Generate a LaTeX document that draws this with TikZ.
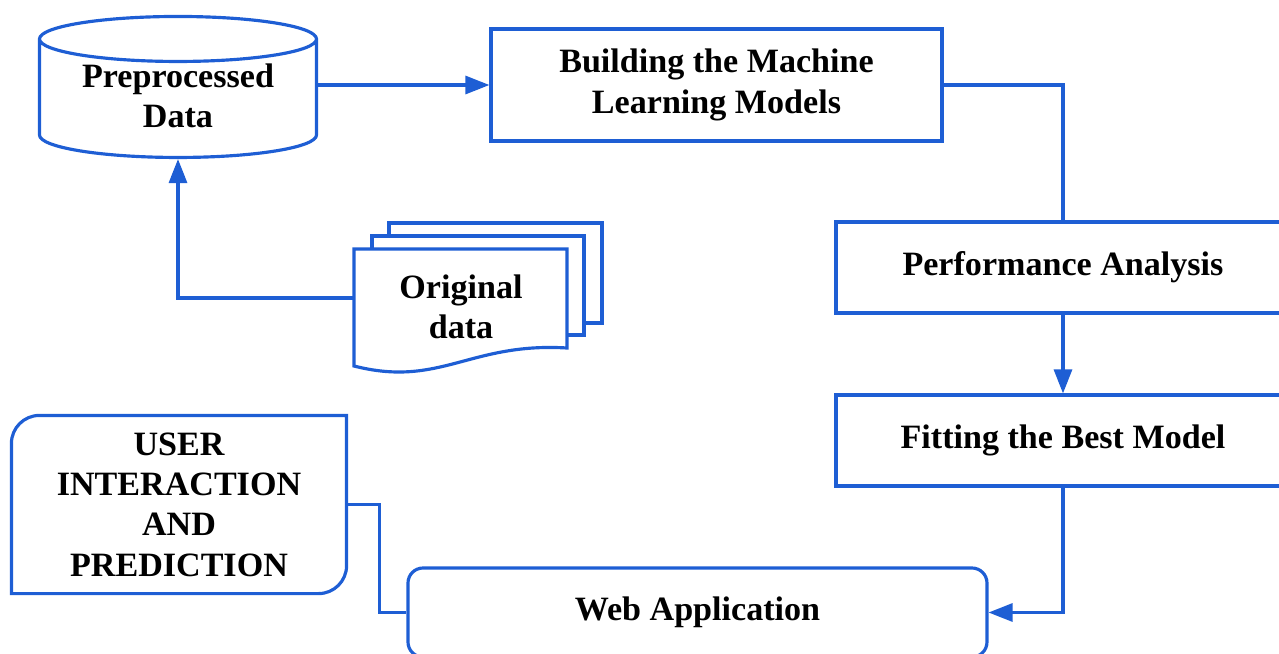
\documentclass[tikz,border=0pt]{standalone}
\usepackage{fontspec}
\setmainfont{Liberation Serif}
\usepackage{tikz}
\usetikzlibrary{shapes.geometric,arrows.meta,positioning}

\definecolor{flowblue}{RGB}{30,94,212}

\begin{document}
\begin{tikzpicture}[x=0.1mm, y=-0.1mm, line width=0.9pt,
    lbl/.style={align=center, font=\bfseries\fontsize{9.7}{11.5}\selectfont},
    box/.style={lbl, draw=flowblue, rectangle, inner sep=0pt},
    flow/.style={draw=flowblue},
    arr/.style={flow, -{Triangle[length=2.4mm,width=1.8mm]}}]
    \useasboundingbox (0,0) rectangle (1279,654);

    % Data store and model building
    \node[draw=flowblue, cylinder, shape border rotate=90, aspect=0.225, inner sep=0pt,
          text width=20mm, minimum width=27.7mm, minimum height=14.1mm] (prep) at (178,99) {};
    \node[lbl] (prepText) at (178,96) {Preprocessed\\Data};
    \node[box, minimum width=45.1mm, minimum height=11.2mm] (build) at (716.5,85) {Building the Machine\\Learning Models};

    % Right column
    \node[box, minimum width=45.4mm, minimum height=9.1mm] (perf) at (1063,267.5) {Performance Analysis};
    \node[box, minimum width=45.4mm, minimum height=9.1mm] (fit) at (1063,440.5) {Fitting the Best Model};

    % Bottom row
    \node[box, rounded corners=1.5mm, minimum width=57.9mm, minimum height=8.9mm] (web) at (697.5,612.5) {Web Application};
    \node[lbl, minimum width=33.2mm, minimum height=17.5mm, inner sep=0pt] (user) at (179,504.5)
        {USER\\INTERACTION\\AND\\PREDICTION};
    \draw[flow] (user.north east)
        [rounded corners=2.8mm] -- (user.south east)
        [sharp corners] -- (user.south west)
        [rounded corners=2.8mm] -- (user.north west)
        [sharp corners] -- cycle;

    % Stack of raw data sheets
    \draw[flow, fill=white] (389,223) rectangle (602,323);
    \draw[flow, fill=white] (372,236) rectangle (584,335);
    \draw[flow, fill=white] (354,249) -- (567,249) -- (567,348)
        .. controls (470,342) and (440,388) .. (354,366) -- cycle;
    \node[lbl] (orig) at (461,307) {Original\\data};

    % Connectors
    \draw[arr] (prep.east |- build.west) -- (build.west);
    \draw[flow] (build.east) -| (perf.north);
    \draw[arr] (perf.south) -- (fit.north);
    \draw[arr] (fit.south) |- (web.east);
    \draw[flow] (user.east) -- ++(33,0) |- (web.west);
    \draw[arr] ([yshift=0.9mm]orig.west -| 354,0) -| (prep.south);
\end{tikzpicture}
\end{document}
